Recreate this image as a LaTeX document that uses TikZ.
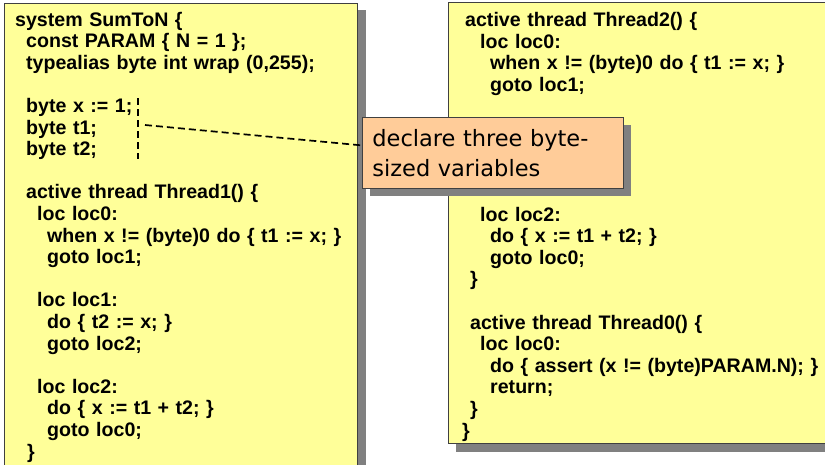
\documentclass[tikz,border=0pt]{standalone}
\usepackage{fontspec}
\setmainfont{Liberation Sans}[WordSpace=1.2]
\newfontfamily\notefont{DejaVu Sans}
\usetikzlibrary{shadows}
\definecolor{codeyellow}{HTML}{FFFF99}
\definecolor{notepeach}{HTML}{FFCC99}
\definecolor{shadowgray}{HTML}{808080}
\definecolor{edgegray}{HTML}{404040}
\begin{document}
\begin{tikzpicture}[x=1pt,y=-1pt,
  panel/.style={draw=edgegray, line width=0.8pt, fill=codeyellow},
  panelshade/.style={fill=shadowgray},
  code/.style={anchor=base west, inner sep=0pt, align=left,
    font=\bfseries\fontsize{19.6}{21.6}\selectfont},
  note/.style={draw=edgegray, line width=0.8pt, fill=notepeach,
    anchor=north west, minimum width=261pt, minimum height=71pt,
    text width=241pt, inner xsep=10pt, align=left,
    font=\notefont\fontsize{22.5}{30}\selectfont,
    general shadow={fill=shadowgray, shadow xshift=8pt, shadow yshift=-8pt}},
  leader/.style={draw=black, line width=1.7pt, dash pattern=on 7pt off 4pt}]
\useasboundingbox (0,0) rectangle (825,464);
\clip (0,0) rectangle (825,464);

% left panel: system header and Thread1
\fill[panelshade] (12,10) rectangle (366,480);
\filldraw[panel] (4,3) rectangle (357,475);

% right panel: Thread2 and Thread0
\fill[panelshade] (456,10) rectangle (840,452);
\filldraw[panel] (448,2) rectangle (835,443);

% the code blocks are placed by the baseline of their last line
\node[code] (left) at (15,458) {%
system SumToN \{\\
\hspace*{11pt}const PARAM \{ N = 1 \};\\
\hspace*{11pt}typealias byte int wrap (0,255);\\
\mbox{}\\
\hspace*{11pt}byte x := 1;\\
\hspace*{11pt}byte t1;\\
\hspace*{11pt}byte t2;\\
\mbox{}\\
\hspace*{11pt}active thread Thread1() \{\\
\hspace*{22pt}loc loc0:\\
\hspace*{32pt}when x != (byte)0 do \{ t1 := x; \}\\
\hspace*{32pt}goto loc1;\\
\mbox{}\\
\hspace*{22pt}loc loc1:\\
\hspace*{32pt}do \{ t2 := x; \}\\
\hspace*{32pt}goto loc2;\\
\mbox{}\\
\hspace*{22pt}loc loc2:\\
\hspace*{32pt}do \{ x := t1 + t2; \}\\
\hspace*{32pt}goto loc0;\\
\hspace*{12pt}\}};

\node[code] (right) at (462,437) {%
\hspace*{3pt}active thread Thread2() \{\\
\hspace*{18pt}loc loc0:\\
\hspace*{28pt}when x != (byte)0 do \{ t1 := x; \}\\
\hspace*{28pt}goto loc1;\\
\mbox{}\\
\mbox{}\\
\mbox{}\\
\mbox{}\\
\mbox{}\\
\hspace*{18pt}loc loc2:\\
\hspace*{28pt}do \{ x := t1 + t2; \}\\
\hspace*{28pt}goto loc0;\\
\hspace*{8pt}\}\\
\mbox{}\\
\hspace*{8pt}active thread Thread0() \{\\
\hspace*{18pt}loc loc0:\\
\hspace*{28pt}do \{ assert (x != (byte)PARAM.N); \}\\
\hspace*{28pt}return;\\
\hspace*{8pt}\}\\
\}};

% callout over the gap in the right panel
\node[note] (note) at (362,117) {declare three byte-\\sized variables};

% bracket beside the three declarations and its leader to the callout
\coordinate (brtop) at (138,98);
\coordinate (brbot) at (138,159);
\coordinate (brmid) at (145,125);
\draw[leader] (brtop) -- (brbot);
\draw[leader] (brmid) -- ([yshift=7.5pt]note.west);
\end{tikzpicture}
\end{document}
